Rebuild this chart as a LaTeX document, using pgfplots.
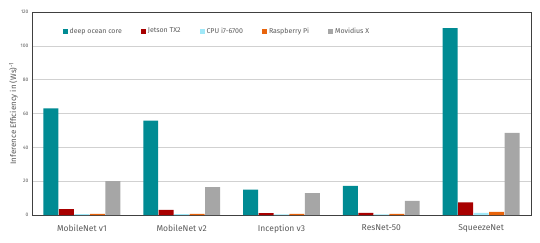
\documentclass[border=0pt]{standalone}
\usepackage{pgfplots}
\pgfplotsset{compat=1.18}
\usepackage{fontspec}
\setmainfont{Fira Sans}
\definecolor{cTeal}{HTML}{008B93}
\definecolor{cRed}{HTML}{A80000}
\definecolor{cBlue}{HTML}{A0E8F8}
\definecolor{cOrange}{HTML}{E8640C}
\definecolor{cGray}{HTML}{A6A6A6}
\definecolor{txt}{HTML}{595959}
\begin{document}
\begin{tikzpicture}
\begin{axis}[
  scale only axis, width=499pt, height=203pt,
  ybar, bar width=0.15,
  xmin=-0.5, xmax=4.5, ymin=0, ymax=120,
  xtick={0,1,2,3,4},
  xticklabels={MobileNet v1,MobileNet v2,Inception v3,ResNet-50,SqueezeNet},
  x tick label style={font=\fontsize{8.5}{10}\selectfont, text=txt, yshift=-2pt},
  major x tick style={draw=none},
  extra x ticks={0.5,1.5,2.5,3.5},
  extra x tick labels={},
  extra x tick style={tick align=inside, major tick length=4pt, tick style={draw=black!70, line width=0.6pt}},
  ytick={0,20,...,120},
  y tick label style={font=\fontsize{5}{6}\selectfont, text=txt},
  /pgf/number format/assume math mode=true,
  major y tick style={draw=none},
  ymajorgrids, grid style={draw=black!18, line width=0.6pt},
  axis line style={draw=black!75, line width=0.7pt},
  ylabel={Inference Efficiency in (Ws)\textsuperscript{-1}},
  ylabel style={font=\fontsize{8}{9}\selectfont, text=txt, yshift=-4pt},
  legend columns=5,
  legend style={draw=none, fill=none, at={(0.055,0.905)}, anchor=west,
    font=\fontsize{7}{8}\selectfont, text=txt,
    /tikz/every even column/.append style={column sep=17pt}},
  legend image code/.code={\fill[#1] (0pt,-2.5pt) rectangle (5pt,2.5pt);},
]
\addplot[fill=cTeal, draw=none, bar shift=-0.31] coordinates {(0,63) (1,55.8) (2,15) (3,17.2) (4,110.5)};
\addlegendentry{deep ocean core}
\addplot[fill=cRed, draw=none, bar shift=-0.155] coordinates {(0,3.4) (1,3) (2,1.1) (3,1.3) (4,7.5)};
\addlegendentry{Jetson TX2}
\addplot[fill=cBlue, draw=none, bar shift=0] coordinates {(0,0.5) (1,0.5) (2,0.4) (3,0.4) (4,1.2)};
\addlegendentry{CPU i7-6700}
\addplot[fill=cOrange, draw=none, bar shift=0.155] coordinates {(0,0.7) (1,0.6) (2,0.6) (3,0.6) (4,1.8)};
\addlegendentry{Raspberry Pi}
\addplot[fill=cGray, draw=none, bar shift=0.31] coordinates {(0,20) (1,16.5) (2,13) (3,8.3) (4,48.5)};
\addlegendentry{Movidius X}
\end{axis}
\pgfresetboundingbox
\path[use as bounding box] (-32pt,-28pt) rectangle (508pt,215pt);
\end{tikzpicture}
\end{document}
